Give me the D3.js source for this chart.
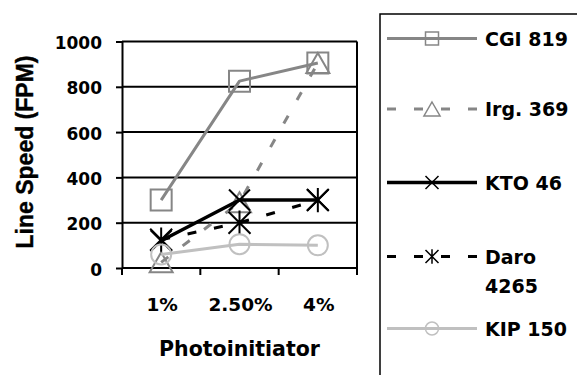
<!DOCTYPE html>
<html>
<head>
<meta charset="utf-8">
<script src="https://cdn.jsdelivr.net/npm/d3@7"></script>
<style>
body { margin: 0; background: #fff; }
svg { display: block; }
text { font-family: "DejaVu Sans", sans-serif; font-weight: bold; fill: #000; }
</style>
</head>
<body>
<svg id="chart" width="577" height="375"></svg>
<script>
const categories = ["1%", "2.50%", "4%"];
const yTicks = [0, 200, 400, 600, 800, 1000];
const seriesNames = ["CGI 819", "Irg. 369", "KTO 46", "Daro 4265", "KIP 150"];
const cgi819 = [300, 825, 905];
const irg369 = [25, 290, 905];
const kto46 = [120, 300, 300];
const daro4265 = [125, 200, 300];
const kip150 = [60, 105, 100];
const legendLabels = [["CGI 819"], ["Irg. 369"], ["KTO 46"], ["Daro", "4265"], ["KIP 150"]];

const styles = [
	{ color: "#868686", dash: null, marker: "square", width: 3, size: 10.5 },
	{ color: "#868686", dash: "9,18", marker: "triangle", width: 3, size: 10 },
	{ color: "#000", dash: null, marker: "x", width: 3.5, size: 10.5 },
	{ color: "#000", dash: "9,18", marker: "asterisk", width: 3, size: 11 },
	{ color: "#c0c0c0", dash: null, marker: "circle", width: 3, size: 10 },
];

const series = seriesNames.map((name, i) => ({
	name,
	values: [cgi819, irg369, kto46, daro4265, kip150][i],
	style: styles[i],
}));

const svg = d3.select("#chart");
const plot = { left: 122, right: 357, top: 41.5, bottom: 268 };

const x = d3.scaleBand().domain(categories).range([plot.left, plot.right]).padding(0);
const y = d3.scaleLinear().domain([0, 1000]).range([plot.bottom, plot.top]);

function markerPath(type, s) {
	switch (type) {
		case "square":
			return `M${-s},${-s}H${s}V${s}H${-s}Z`;
		case "triangle":
			return `M0,${-s}L${s * 1.15},${s}L${-s * 1.15},${s}Z`;
		case "x":
			return `M${-s},${-s}L${s},${s}M${s},${-s}L${-s},${s}`;
		case "asterisk":
			return `M${-s},${-s}L${s},${s}M${s},${-s}L${-s},${s}M0,${-s * 1.1}L0,${s * 1.1}`;
		default:
			return `M${s},0A${s},${s} 0 1,1 ${-s},0A${s},${s} 0 1,1 ${s},0`;
	}
}

// gridlines
svg.append("g")
	.selectAll("line")
	.data(yTicks)
	.join("line")
	.attr("x1", plot.left)
	.attr("x2", plot.right)
	.attr("y1", (d) => y(d))
	.attr("y2", (d) => y(d))
	.attr("stroke", "#000")
	.attr("stroke-width", 2);

// right border
svg.append("line")
	.attr("x1", plot.right).attr("x2", plot.right)
	.attr("y1", plot.top).attr("y2", plot.bottom)
	.attr("stroke", "#000").attr("stroke-width", 2);

// y axis
const yAxis = svg.append("g")
	.attr("transform", `translate(${plot.left},0)`)
	.call(d3.axisLeft(y).tickValues(yTicks).tickFormat(d3.format("d")).tickSize(6).tickSizeOuter(0).tickPadding(14));
yAxis.select(".domain").attr("stroke", "#000").attr("stroke-width", 2);
yAxis.selectAll(".tick line").attr("stroke", "#000").attr("stroke-width", 2);
yAxis.selectAll(".tick text")
	.attr("font-family", "DejaVu Sans")
	.attr("font-weight", "bold")
	.attr("font-size", 17)
	.attr("dy", "0.42em");

// x axis: tick marks between categories
const boundaries = d3.range(categories.length + 1).map((i) => plot.left + i * x.step());
svg.append("g")
	.selectAll("line")
	.data(boundaries)
	.join("line")
	.attr("x1", (d) => d).attr("x2", (d) => d)
	.attr("y1", plot.bottom).attr("y2", plot.bottom + 7)
	.attr("stroke", "#000").attr("stroke-width", 2);

svg.append("g")
	.selectAll("text")
	.data(categories)
	.join("text")
	.attr("x", (d) => x(d) + x.bandwidth() / 2 + 1)
	.attr("y", 310.5)
	.attr("text-anchor", "middle")
	.attr("font-size", 18.5)
	.text((d) => d);

svg.append("text")
	.attr("x", 239.5)
	.attr("y", 356)
	.attr("text-anchor", "middle")
	.attr("font-size", 20.5)
	.text("Photoinitiator");

svg.append("text")
	.attr("transform", "translate(33,152) rotate(-90)")
	.attr("text-anchor", "middle")
	.style("font-family", "'Liberation Sans', Arial, sans-serif")
	.attr("font-size", 23)
	.attr("stroke", "#000")
	.attr("stroke-width", 0.4)
	.text("Line Speed (FPM)");

// series
const line = d3.line()
	.x((d, i) => x(categories[i]) + x.bandwidth() / 2)
	.y((d) => y(d));

series.forEach((s) => {
	const g = svg.append("g");
	g.append("path")
		.datum(s.values)
		.attr("d", line)
		.attr("fill", "none")
		.attr("stroke", s.style.color)
		.attr("stroke-width", s.style.width)
		.attr("stroke-dasharray", s.style.dash)
		.attr("stroke-linejoin", "round");
	g.selectAll(".marker")
		.data(s.values)
		.join("path")
		.attr("class", "marker")
		.attr("transform", (d, i) => `translate(${x(categories[i]) + x.bandwidth() / 2},${y(d)})`)
		.attr("d", markerPath(s.style.marker, s.style.size))
		.attr("fill", "none")
		.attr("stroke", s.style.color)
		.attr("stroke-width", 2);
});

// legend
svg.append("rect")
	.attr("x", 380).attr("y", 14)
	.attr("width", 260).attr("height", 400)
	.attr("fill", "none")
	.attr("stroke", "#000")
	.attr("stroke-width", 1.5);

const legendY = [38.5, 109, 182.5, 256.5, 328.5];
const legend = svg.append("g")
	.selectAll("g")
	.data(series)
	.join("g")
	.attr("transform", (d, i) => `translate(0,${legendY[i]})`);

legend.append("line")
	.attr("x1", 387).attr("x2", 477)
	.attr("stroke", (d) => d.style.color)
	.attr("stroke-width", (d) => d.style.width)
	.attr("stroke-dasharray", (d) => d.style.dash);

legend.append("path")
	.attr("transform", "translate(432,0)")
	.attr("d", (d) => markerPath(d.style.marker, d.style.marker === "triangle" ? 7 : 6.5))
	.attr("fill", "none")
	.attr("stroke", (d) => d.style.color)
	.attr("stroke-width", 1.5);

legend.each(function (d, i) {
	const lines = legendLabels[i];
	d3.select(this)
		.selectAll("text")
		.data(lines)
		.join("text")
		.attr("x", 485)
		.attr("y", (t, j) => 7 + j * 29)
		.attr("font-size", 19)
		.text((t) => t);
});
</script>
</body>
</html>
